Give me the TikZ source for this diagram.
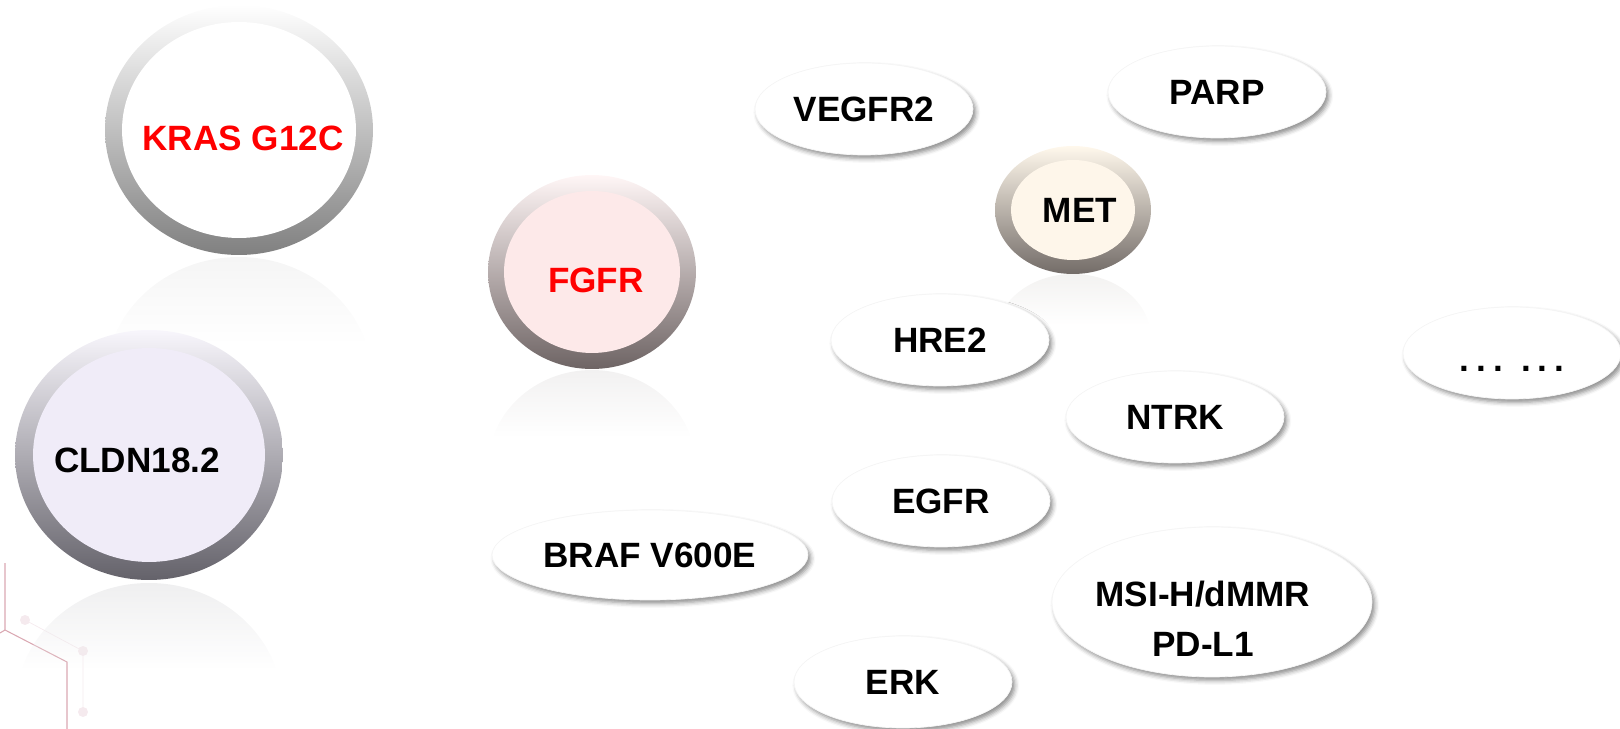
\documentclass[tikz,border=0pt]{standalone}
\usepackage{fontspec}
\setmainfont{Liberation Sans}
\usepackage{tikz}
\usetikzlibrary{shapes.geometric, shadows.blur, fadings}

\newcommand{\labelfont}{\fontsize{20}{28.5}\selectfont\bfseries}

\definecolor{krasdark}{RGB}{128,128,128}
\definecolor{cldnlight}{RGB}{248,246,252}
\definecolor{cldndark}{RGB}{100,98,106}
\definecolor{cldnfill}{RGB}{240,236,248}
\definecolor{fgfrlight}{RGB}{255,246,246}
\definecolor{fgfrdark}{RGB}{110,100,100}
\definecolor{fgfrfill}{RGB}{253,233,233}
\definecolor{metlight}{RGB}{255,248,236}
\definecolor{metdark}{RGB}{115,108,104}
\definecolor{metfill}{RGB}{254,246,234}
\definecolor{hexpink}{RGB}{218,168,178}
\definecolor{dotpink}{RGB}{245,234,238}

\tikzstyle{ring}   = [ellipse, inner sep=0pt, shading=axis, shading angle=45]
\tikzstyle{core}   = [ellipse, inner sep=0pt]
\tikzstyle{lbl}    = [font=\labelfont, inner sep=0pt, align=center]
\tikzstyle{target} = [ellipse, inner sep=0pt, fill=white, draw=gray!8,
                      minimum width=4.36cm, minimum height=1.84cm, font=\labelfont,
                      blur shadow={shadow xshift=1.6pt, shadow yshift=-2pt,
                                   shadow blur radius=2.5pt, shadow opacity=45}]

\begin{document}
\begin{tikzpicture}[x=0.02cm, y=-0.02cm]
  \useasboundingbox (0,0) rectangle (1620,729);

  % hexagon ornament, bottom left
  \draw[hexpink, line width=0.6pt] (5,563) -- (5,630) -- (67,662) -- (67,729);
  \draw[hexpink, line width=0.6pt] (5,630) -- (0,633);
  \draw[dotpink, line width=0.4pt] (25,620) -- (83,651) -- (83,712);
  \fill[dotpink] (25,620) circle [radius=5];
  \fill[dotpink] (83,651) circle [radius=5];
  \fill[dotpink] (83,712) circle [radius=5];

  % mirrored reflections under the circles
  \begin{scope}
    \clip (239,382) ellipse [x radius=134, y radius=125];
    \fill[black!4, path fading=south] (100,257) rectangle (380,345);
  \end{scope}
  \begin{scope}
    \clip (149,708) ellipse [x radius=134, y radius=125];
    \fill[cldndark!10, path fading=south] (10,583) rectangle (290,670);
  \end{scope}
  \begin{scope}
    \clip (592,467) ellipse [x radius=104, y radius=97];
    \fill[fgfrdark!9, path fading=south] (480,370) rectangle (700,438);
  \end{scope}
  \begin{scope}
    \clip (1073,338) ellipse [x radius=78, y radius=64];
    \fill[metdark!9, path fading=south] (990,274) rectangle (1160,325);
  \end{scope}

  % target circles
  \node[ring, top color=white, middle color=krasdark!38!white, bottom color=krasdark,
        minimum width=5.36cm, minimum height=5cm] (krasring) at (239,130) {};
  \node[core, fill=white, minimum width=4.68cm, minimum height=4.32cm] (kras) at (krasring) {};
  \node[lbl, text=red] (krastxt) at (243,138) {KRAS G12C};

  \node[ring, top color=cldnlight, middle color=cldndark!42!white, bottom color=cldndark,
        minimum width=5.36cm, minimum height=5cm] (cldnring) at (149,455) {};
  \node[core, fill=cldnfill, minimum width=4.64cm, minimum height=4.28cm] (cldn) at (cldnring) {};
  \node[lbl] (cldntxt) at (137,460) {CLDN18.2};

  \node[ring, top color=fgfrlight, middle color=fgfrdark!45!white, bottom color=fgfrdark,
        minimum width=4.16cm, minimum height=3.88cm] (fgfrring) at (592,272) {};
  \node[core, fill=fgfrfill, minimum width=3.52cm, minimum height=3.24cm] (fgfr) at (fgfrring) {};
  \node[lbl, text=red] (fgfrtxt) at (596,280) {FGFR};

  \node[ring, top color=metlight, middle color=metdark!45!metlight, bottom color=metdark,
        minimum width=3.12cm, minimum height=2.56cm] (metring) at (1073,210) {};
  \node[core, fill=metfill, minimum width=2.48cm, minimum height=2cm] (met) at (metring) {};
  \node[lbl] (mettxt) at (1080,210) {MET};

  % target ellipses
  \node[target] (vegfr) at (864,109) {VEGFR2};
  \node[target] (parp)  at (1217,92) {PARP};
  \node[target] (hre)   at (940,340) {HRE2};
  \node[target] (ntrk)  at (1175,417) {NTRK};
  \node[target] (egfr)  at (941,501) {EGFR};
  \node[target] (erk)   at (903,682) {ERK};
  \node[target] (more)  at (1512,353)
    {\rule{0pt}{21pt}.\hspace{3.9pt}.\hspace{3.9pt}.\hspace{10.4pt}.\hspace{3.9pt}.\hspace{3.9pt}.};
  \node[target, minimum width=6.32cm, minimum height=1.8cm] (braf) at (650,555) {BRAF V600E};
  \node[target, minimum width=6.4cm, minimum height=3cm] (msi) at (1212,602) {};
  \node[lbl] (msitxt) at (1203,619) {MSI-H/dMMR\\PD-L1};
\end{tikzpicture}
\end{document}
